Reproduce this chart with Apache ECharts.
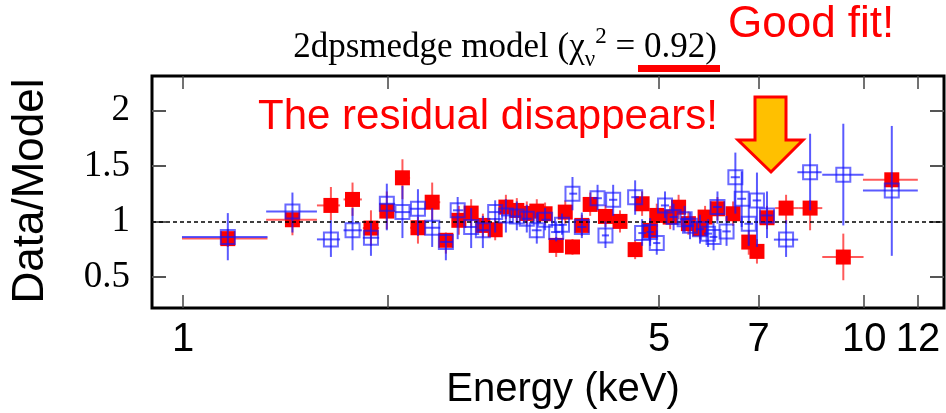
<!DOCTYPE html>
<html>
<head>
<meta charset="utf-8">
<script src="https://cdn.jsdelivr.net/npm/echarts@6/dist/echarts.min.js"></script>
<style>
  html, body { margin: 0; padding: 0; background: #fff; }
  #main { width: 946px; height: 413px; }
</style>
</head>
<body>
<div id="main"></div>
<script>
// rows: [energy, energyLo, energyHi, ratio, ratioLo, ratioHi]
var redPoints = [
  [1.163, 0.996, 1.33, 0.845, 0.77, 0.93],
  [1.447, 1.324, 1.572, 1.015, 0.875, 1.08],
  [1.648, 1.572, 1.70, 1.144, 1.01, 1.31],
  [1.773, 1.72, 1.83, 1.198, 1.05, 1.35],
  [1.887, 1.836, 1.94, 0.94, 0.78, 1.10],
  [1.991, 1.94, 2.048, 1.093, 0.93, 1.27],
  [2.099, 2.048, 2.154, 1.393, 1.20, 1.56],
  [2.212, 2.154, 2.267, 0.943, 0.80, 1.04],
  [2.321, 2.267, 2.385, 1.173, 1.01, 1.35],
  [2.431, 2.385, 2.49, 0.83, 0.71, 0.90],
  [2.54, 2.49, 2.59, 1.01, 0.88, 1.14],
  [2.648, 2.59, 2.70, 1.075, 0.94, 1.20],
  [2.755, 2.70, 2.81, 0.964, 0.86, 1.07],
  [2.872, 2.81, 2.93, 0.925, 0.83, 1.03],
  [2.978, 2.93, 3.03, 1.129, 1.02, 1.24],
  [3.09, 3.03, 3.14, 1.099, 0.99, 1.21],
  [3.196, 3.14, 3.25, 1.072, 0.97, 1.18],
  [3.306, 3.25, 3.36, 1.093, 0.99, 1.20],
  [3.40, 3.36, 3.46, 1.069, 0.97, 1.17],
  [3.53, 3.47, 3.58, 0.784, 0.68, 0.86],
  [3.64, 3.58, 3.69, 1.084, 0.98, 1.19],
  [3.73, 3.69, 3.79, 0.77, 0.70, 0.84],
  [3.85, 3.79, 3.91, 0.964, 0.87, 1.06],
  [3.96, 3.91, 4.02, 1.153, 1.05, 1.26],
  [4.17, 4.11, 4.23, 1.045, 0.95, 1.15],
  [4.38, 4.33, 4.44, 1.0, 0.90, 1.10],
  [4.61, 4.55, 4.67, 0.746, 0.66, 0.83],
  [4.72, 4.66, 4.78, 1.159, 1.05, 1.27],
  [4.85, 4.79, 4.91, 0.919, 0.82, 1.02],
  [4.96, 4.90, 5.02, 1.054, 0.95, 1.16],
  [5.19, 5.12, 5.26, 1.039, 0.93, 1.14],
  [5.34, 5.26, 5.42, 1.128, 1.02, 1.24],
  [5.52, 5.44, 5.60, 0.98, 0.88, 1.09],
  [5.74, 5.66, 5.82, 0.934, 0.84, 1.03],
  [5.84, 5.76, 5.92, 1.039, 0.94, 1.14],
  [6.09, 6.00, 6.18, 1.114, 1.01, 1.22],
  [6.42, 6.33, 6.51, 1.069, 0.96, 1.18],
  [6.77, 6.67, 6.87, 0.814, 0.70, 0.92],
  [6.96, 6.86, 7.06, 0.73, 0.62, 0.84],
  [7.20, 7.06, 7.34, 1.033, 0.93, 1.14],
  [7.68, 7.40, 8.0, 1.12, 0.98, 1.24],
  [8.33, 8.0, 8.68, 1.12, 0.92, 1.19],
  [9.32, 8.68, 9.98, 0.679, 0.47, 0.89],
  [10.98, 9.96, 11.99, 1.375, 1.30, 1.44]
];

var bluePoints = [
  [1.163, 0.996, 1.33, 0.86, 0.65, 1.075],
  [1.447, 1.324, 1.572, 1.09, 0.90, 1.26],
  [1.648, 1.572, 1.70, 0.838, 0.68, 1.01],
  [1.773, 1.72, 1.83, 0.92, 0.74, 1.12],
  [1.887, 1.836, 1.94, 0.853, 0.69, 0.99],
  [1.991, 1.94, 2.048, 1.159, 0.92, 1.34],
  [2.099, 2.048, 2.154, 1.084, 0.85, 1.32],
  [2.212, 2.154, 2.267, 1.114, 0.87, 1.29],
  [2.321, 2.267, 2.385, 0.943, 0.77, 1.12],
  [2.431, 2.385, 2.49, 0.815, 0.65, 0.89],
  [2.53, 2.49, 2.58, 1.10, 0.84, 1.22],
  [2.648, 2.59, 2.70, 0.95, 0.76, 1.12],
  [2.755, 2.70, 2.81, 0.92, 0.76, 1.05],
  [2.872, 2.81, 2.93, 1.084, 0.90, 1.19],
  [2.978, 2.93, 3.03, 1.054, 0.90, 1.20],
  [3.09, 3.03, 3.14, 1.045, 0.92, 1.18],
  [3.196, 3.14, 3.25, 1.024, 0.90, 1.15],
  [3.306, 3.25, 3.36, 0.92, 0.80, 1.08],
  [3.40, 3.36, 3.46, 1.015, 0.92, 1.12],
  [3.53, 3.47, 3.58, 0.904, 0.82, 1.00],
  [3.60, 3.56, 3.66, 0.97, 0.88, 1.07],
  [3.73, 3.69, 3.79, 1.25, 1.10, 1.40],
  [3.85, 3.79, 3.91, 0.95, 0.85, 1.08],
  [4.06, 4.00, 4.12, 1.209, 1.10, 1.33],
  [4.17, 4.12, 4.22, 0.874, 0.76, 1.00],
  [4.28, 4.22, 4.34, 1.195, 1.05, 1.33],
  [4.61, 4.55, 4.67, 1.218, 1.06, 1.37],
  [4.72, 4.66, 4.78, 0.895, 0.78, 1.02],
  [4.85, 4.79, 4.91, 0.904, 0.78, 1.03],
  [4.96, 4.90, 5.02, 0.805, 0.70, 0.92],
  [5.10, 5.03, 5.17, 1.144, 1.03, 1.27],
  [5.25, 5.18, 5.32, 1.04, 0.92, 1.16],
  [5.45, 5.37, 5.53, 1.02, 0.90, 1.14],
  [5.55, 5.47, 5.63, 0.96, 0.84, 1.08],
  [5.74, 5.66, 5.82, 0.93, 0.80, 1.06],
  [5.90, 5.82, 5.98, 0.89, 0.77, 1.02],
  [6.01, 5.93, 6.09, 0.86, 0.74, 0.99],
  [6.09, 6.00, 6.18, 1.13, 0.98, 1.27],
  [6.28, 6.19, 6.37, 0.91, 0.78, 1.05],
  [6.47, 6.37, 6.57, 1.398, 1.07, 1.62],
  [6.61, 6.51, 6.71, 1.204, 0.95, 1.45],
  [6.77, 6.67, 6.87, 0.979, 0.78, 1.15],
  [6.96, 6.86, 7.06, 1.189, 0.77, 1.44],
  [7.20, 7.06, 7.34, 1.054, 0.85, 1.27],
  [7.68, 7.37, 8.0, 0.836, 0.68, 1.01],
  [8.33, 7.98, 8.66, 1.443, 1.10, 1.79],
  [9.32, 8.68, 9.98, 1.42, 0.964, 1.88],
  [10.98, 9.96, 11.99, 1.279, 0.69, 1.86]
];

var xTicks = [1, 2, 5, 7, 10, 12];
var xTickLabels = [1, 5, 7, 10, 12];
var yTicks = [0.5, 1, 1.5, 2];

var sansFont = "'Liberation Sans', Arial, sans-serif";
var serifFont = "'Liberation Serif', 'Times New Roman', serif";

function errorBars(color) {
  return function (params, api) {
    var c = api.coord([api.value(0), api.value(3)]);
    var l = api.coord([api.value(1), api.value(3)]);
    var r = api.coord([api.value(2), api.value(3)]);
    var lo = api.coord([api.value(0), api.value(4)]);
    var hi = api.coord([api.value(0), api.value(5)]);
    return {
      type: 'group',
      children: [
        { type: 'line', shape: { x1: l[0], y1: c[1], x2: r[0], y2: c[1] }, style: { stroke: color, lineWidth: 2 } },
        { type: 'line', shape: { x1: c[0], y1: lo[1], x2: c[0], y2: hi[1] }, style: { stroke: color, lineWidth: 2 } }
      ]
    };
  };
}

var chart = echarts.init(document.getElementById('main'));

var xAxisBase = {
  type: 'log',
  min: 0.9,
  max: 13.1,
  axisLine: { show: false },
  splitLine: { show: false },
  minorTick: { show: false },
  axisTick: { inside: true, length: 13, customValues: xTicks, lineStyle: { color: '#444', width: 1.5 } }
};
var yAxisBase = {
  type: 'value',
  min: 0.22,
  max: 2.31,
  axisLine: { show: false },
  splitLine: { show: false },
  axisTick: { inside: true, length: 14, customValues: yTicks, lineStyle: { color: '#555', width: 2 } }
};

var option = {
  animation: false,
  backgroundColor: '#fff',
  grid: {
    left: 152, top: 76, right: 2, bottom: 105,
    show: true, borderColor: '#000', borderWidth: 3, backgroundColor: 'transparent'
  },
  xAxis: [
    Object.assign({}, xAxisBase, {
      position: 'bottom',
      axisLabel: { customValues: xTickLabels, fontFamily: sansFont, fontSize: 40, color: '#000', margin: 12 }
    }),
    Object.assign({}, xAxisBase, { position: 'top', axisLabel: { show: false } })
  ],
  yAxis: [
    Object.assign({}, yAxisBase, {
      position: 'left',
      axisLabel: { customValues: yTicks, fontFamily: serifFont, fontSize: 37, color: '#000', margin: 22 }
    }),
    Object.assign({}, yAxisBase, { position: 'right', axisLabel: { show: false } })
  ],
  series: [
    {
      type: 'custom',
      renderItem: errorBars('rgba(255,0,0,0.65)'),
      data: redPoints,
      encode: { x: [0, 1, 2], y: [3, 4, 5] },
      silent: true,
      z: 2,
      markLine: {
        silent: true,
        symbol: 'none',
        label: { show: false },
        lineStyle: { color: '#000', type: [4, 3], width: 1.5 },
        data: [{ yAxis: 1 }]
      }
    },
    {
      type: 'scatter',
      data: redPoints,
      encode: { x: 0, y: 3 },
      symbol: 'rect',
      symbolSize: 15,
      itemStyle: { color: '#ff0000', opacity: 1 },
      z: 3
    },
    {
      type: 'custom',
      renderItem: errorBars('rgba(20,20,255,0.7)'),
      data: bluePoints,
      encode: { x: [0, 1, 2], y: [3, 4, 5] },
      silent: true,
      z: 4
    },
    {
      type: 'scatter',
      data: bluePoints,
      encode: { x: 0, y: 3 },
      symbol: 'rect',
      symbolSize: 14,
      itemStyle: { color: 'rgba(0,0,0,0)', borderColor: 'rgba(20,20,255,0.8)', borderWidth: 2 },
      z: 5
    }
  ],
  graphic: [
    {
      type: 'text', x: 505, y: 48, z: 10,
      style: {
        text: '{a|2dpsmedge model (χ}{sub|ν}{sup|2}{a| = 0.92)}',
        textAlign: 'center', textVerticalAlign: 'middle',
        rich: {
          a: { fontFamily: serifFont, fontSize: 35, lineHeight: 46, fill: '#000', verticalAlign: 'middle' },
          sub: { fontFamily: serifFont, fontSize: 23, lineHeight: 46, fill: '#000', verticalAlign: 'bottom' },
          sup: { fontFamily: serifFont, fontSize: 23, lineHeight: 46, fill: '#000', verticalAlign: 'top' }
        }
      }
    },
    { type: 'rect', shape: { x: 638, y: 65, width: 82, height: 7 }, style: { fill: '#ff0000' }, z: 10 },
    {
      type: 'text', x: 728, y: 25, z: 10,
      style: { text: 'Good fit!', font: '44px ' + sansFont, fill: '#ff0000', textAlign: 'left', textVerticalAlign: 'middle' }
    },
    {
      type: 'text', x: 258, y: 117, z: 10,
      style: { text: 'The residual disappears!', font: '42px ' + sansFont, fill: '#ff0000', textAlign: 'left', textVerticalAlign: 'middle' }
    },
    {
      type: 'polygon', z: 10,
      shape: { points: [[755, 97], [786, 97], [786, 140], [803, 140], [771, 172], [738, 140], [755, 140]] },
      style: { fill: '#ffc000', stroke: '#ff0000', lineWidth: 3 }
    },
    {
      type: 'text', x: 31, y: 191, rotation: Math.PI / 2, z: 10,
      style: { text: 'Data/Model', font: '44px ' + sansFont, fill: '#000', textAlign: 'center', textVerticalAlign: 'middle' }
    },
    {
      type: 'text', x: 563, y: 390, z: 10,
      style: { text: 'Energy (keV)', font: '40px ' + sansFont, fill: '#000', textAlign: 'center', textVerticalAlign: 'middle' }
    }
  ]
};

chart.setOption(option);
</script>
</body>
</html>
